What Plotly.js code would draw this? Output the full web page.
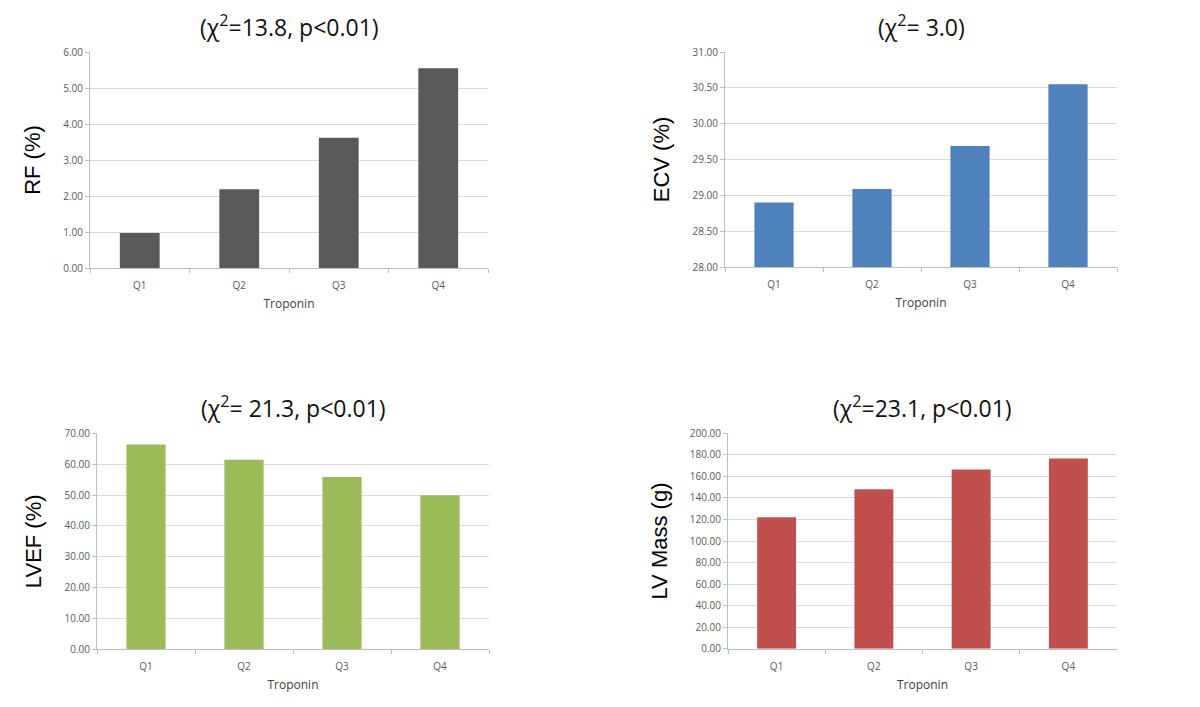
<!DOCTYPE html>
<html>
<head>
<meta charset="utf-8">
<script src="https://cdn.plot.ly/plotly-3.0.1.min.js"></script>
<style>html,body{margin:0;padding:0;background:#fff;}#chart{width:1200px;height:707px;}</style>
</head>
<body>
<div id="chart"></div>
<script>
// Data
var categories = ["Q1", "Q2", "Q3", "Q4"];
var rfValues = [0.97, 2.19, 3.62, 5.55];
var ecvValues = [28.90, 29.09, 29.69, 30.55];
var lvefValues = [66.4, 61.4, 55.8, 49.9];
var lvMassValues = [122.0, 148.0, 166.5, 176.5];
var panelTitles = ["(χ<sup>2</sup>=13.8, p&lt;0.01)", "(χ<sup>2</sup>= 3.0)", "(χ<sup>2</sup>= 21.3, p&lt;0.01)", "(χ<sup>2</sup>=23.1, p&lt;0.01)"];
var yTitles = ["RF (%)", "ECV (%)", "LVEF (%)", "LV Mass (g)"];
var xTitle = "Troponin";

var colors = ["#595959", "#4f81bd", "#9bbb59", "#c0504d"];
var series = [rfValues, ecvValues, lvefValues, lvMassValues];
var axisSuffix = ["", "2", "3", "4"];

var traces = series.map(function (vals, i) {
  return {
    type: "bar",
    x: categories,
    y: vals,
    marker: {color: colors[i], line: {width: 0}},
    xaxis: "x" + axisSuffix[i],
    yaxis: "y" + axisSuffix[i],
    hoverinfo: "x+y",
    showlegend: false
  };
});

var W = 1200, H = 707;
function dx(a, b) { return [a / W, b / W]; }
function dy(bottom, top) { return [1 - bottom / H, 1 - top / H]; }

var panels = [
  {x: dx(90, 488), y: dy(268, 52), range: [0, 6], dtick: 1},
  {x: dx(725, 1117), y: dy(267, 52), range: [28, 31], dtick: 0.5},
  {x: dx(97, 489), y: dy(649.3, 433.3), range: [0, 70], dtick: 10},
  {x: dx(728, 1117), y: dy(648.7, 433.3), range: [0, 200], dtick: 20}
];

var tickFont = {family: "Open Sans, Liberation Sans, Arial, sans-serif", size: 10, color: "#595959"};

var layout = {
  width: W, height: H,
  margin: {l: 0, r: 0, t: 0, b: 0},
  paper_bgcolor: "#ffffff",
  plot_bgcolor: "#ffffff",
  bargap: 0.6,
  showlegend: false,
  annotations: []
};

panels.forEach(function (p, i) {
  var s = axisSuffix[i];
  layout["xaxis" + s] = {
    domain: p.x,
    anchor: "y" + s,
    type: "category",
    showgrid: false,
    showline: true,
    linecolor: "#bfbfbf",
    linewidth: 1,
    ticks: "outside",
    tickson: "boundaries",
    ticklen: 4,
    tickcolor: "#bfbfbf",
    ticklabelstandoff: 8,
    tickfont: tickFont,
    title: {text: xTitle, standoff: 8, font: {family: "Open Sans, Liberation Sans, Arial, sans-serif", size: 12, color: "#404040"}},
    fixedrange: true
  };
  layout["yaxis" + s] = {
    domain: p.y,
    anchor: "x" + s,
    range: p.range,
    dtick: p.dtick,
    tick0: p.range[0],
    tickformat: ".2f",
    showgrid: true,
    gridcolor: "#d9d9d9",
    gridwidth: 1,
    zeroline: false,
    showline: true,
    linecolor: "#bfbfbf",
    ticks: "outside",
    ticklen: 4,
    tickcolor: "#bfbfbf",
    tickfont: tickFont,
    title: {text: yTitles[i], standoff: 16, font: {family: "Liberation Sans, Arial, sans-serif", size: 22, color: "#000000"}},
    fixedrange: true
  };
  layout.annotations.push({
    text: panelTitles[i],
    xref: "paper", yref: "paper",
    x: (p.x[0] + p.x[1]) / 2,
    y: p.y[1],
    yshift: 7,
    xanchor: "center", yanchor: "bottom",
    showarrow: false,
    font: {family: "Open Sans, Liberation Sans, Arial, sans-serif", size: 23, color: "#111111"}
  });
});

Plotly.newPlot("chart", traces, layout, {displayModeBar: false});
</script>
</body>
</html>
